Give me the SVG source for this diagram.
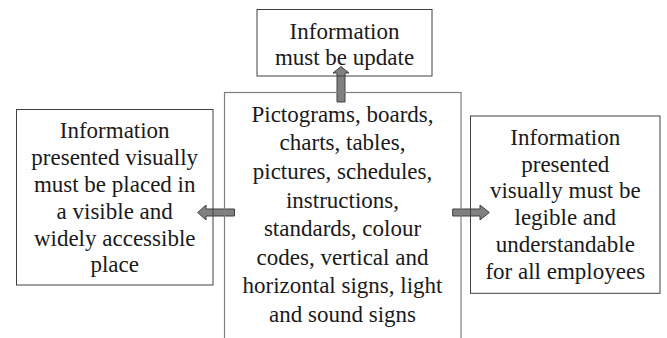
<svg xmlns="http://www.w3.org/2000/svg" width="667" height="338" viewBox="0 0 667 338">
<style>
.t{font-family:"Liberation Serif","Times New Roman",serif;font-size:23px;fill:#1a1a1a;text-anchor:middle}
.b{fill:none;stroke:#404040;stroke-width:1}
.c{fill:none;stroke:#7f7f7f;stroke-width:1.2}
.a{fill:#808080;stroke:#404040;stroke-width:1}
</style>
<rect width="667" height="338" fill="#fff"/>
<g id="connectors">
<path class="a" d="M337,102 L337,73 L333,73 L341,66.5 L349,73 L345,73 L345,102 Z"/>
<path class="a" d="M234.5,209 L206,209 L206,205 L197.7,212.5 L206,220 L206,216 L234.5,216 Z"/>
<path class="a" d="M452.7,209 L480,209 L480,205 L489.3,212.5 L480,220 L480,216 L452.7,216 Z"/>
</g>
<g id="top">
<rect class="b" x="257" y="9.5" width="175" height="66.5"/>
<text class="t" x="344.5" y="38.5">Information</text>
<text class="t" x="344.5" y="65">must be update</text>
</g>
<g id="center">
<rect class="c" x="224.5" y="92.5" width="236.5" height="260"/>
<text class="t" x="342.5" y="121.7">Pictograms, boards,</text>
<text class="t" x="342.5" y="150.3">charts, tables,</text>
<text class="t" x="342.5" y="178.9">pictures, schedules,</text>
<text class="t" x="342.5" y="207.5">instructions,</text>
<text class="t" x="342.5" y="236.1">standards, colour</text>
<text class="t" x="342.5" y="264.7">codes, vertical and</text>
<text class="t" x="342.5" y="293.3">horizontal signs, light</text>
<text class="t" x="342.5" y="321.9">and sound signs</text>
</g>
<g id="left">
<rect class="b" x="16.5" y="109.5" width="196.5" height="175.5"/>
<text class="t" x="114.7" y="138.3">Information</text>
<text class="t" x="114.7" y="165.1">presented visually</text>
<text class="t" x="114.7" y="191.9">must be placed in</text>
<text class="t" x="114.7" y="218.7">a visible and</text>
<text class="t" x="114.7" y="245.5">widely accessible</text>
<text class="t" x="114.7" y="272.3">place</text>
</g>
<g id="right">
<rect class="b" x="470.5" y="116" width="189.5" height="177.3"/>
<text class="t" x="565.3" y="145">Information</text>
<text class="t" x="565.3" y="171.7">presented</text>
<text class="t" x="565.3" y="198.4">visually must be</text>
<text class="t" x="565.3" y="225.1">legible and</text>
<text class="t" x="565.3" y="251.8">understandable</text>
<text class="t" x="565.3" y="278.5">for all employees</text>
</g>
</svg>
